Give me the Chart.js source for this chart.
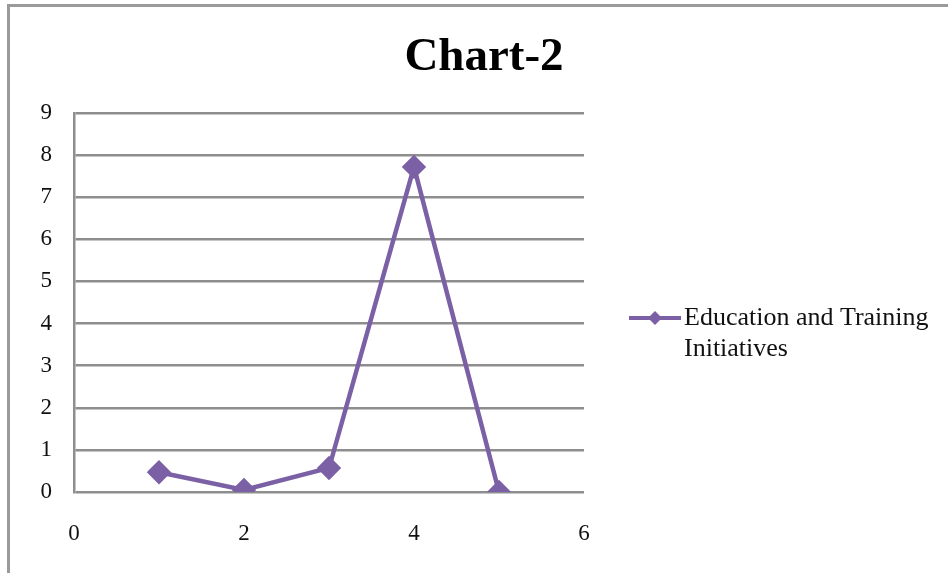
<!DOCTYPE html>
<html>
<head>
<meta charset="utf-8">
<script src="https://cdn.jsdelivr.net/npm/chart.js@4"></script>
<style>
  body { margin: 0; background: #fff; }
  #wrap { width: 948px; height: 573px; position: relative; }
</style>
</head>
<body>
<div id="wrap"><canvas id="chart2"></canvas></div>
<script>
const xValues = [1, 2, 3, 4, 5];
const yValues = [0.47, 0.05, 0.57, 7.72, 0];
const seriesName = ['Education and Training', 'Initiatives'];
const xTicks = [0, 2, 4, 6];

const purple = '#7b60a6';
const serif = "'Liberation Serif', 'Times New Roman', serif";

// frame around the chart (top and left edge like the scan)
const framePlugin = {
  id: 'frame',
  beforeDraw(chart) {
    const ctx = chart.ctx;
    ctx.save();
    ctx.strokeStyle = '#9a9a9a';
    ctx.lineWidth = 3;
    ctx.beginPath();
    ctx.moveTo(8.5, 573);
    ctx.lineTo(8.5, 5.5);
    ctx.lineTo(948, 5.5);
    ctx.stroke();
    ctx.restore();
  }
};

// legend on the right, label on two lines
const legendPlugin = {
  id: 'sideLegend',
  afterDraw(chart) {
    const ctx = chart.ctx;
    const ds = chart.data.datasets[0];
    const y = 318;
    ctx.save();
    ctx.strokeStyle = ds.borderColor;
    ctx.lineWidth = 4;
    ctx.beginPath();
    ctx.moveTo(629, y);
    ctx.lineTo(681, y);
    ctx.stroke();
    ctx.fillStyle = ds.backgroundColor;
    ctx.beginPath();
    ctx.moveTo(655, y - 7);
    ctx.lineTo(662, y);
    ctx.lineTo(655, y + 7);
    ctx.lineTo(648, y);
    ctx.closePath();
    ctx.fill();
    ctx.fillStyle = '#111';
    ctx.font = '26px ' + serif;
    ctx.textBaseline = 'middle';
    ctx.fillText(seriesName[0], 684, y);
    ctx.fillText(seriesName[1], 684, y + 31);
    ctx.restore();
  }
};

new Chart(document.getElementById('chart2'), {
  type: 'scatter',
  data: {
    datasets: [{
      label: seriesName.join(' '),
      data: xValues.map((x, i) => ({ x: x, y: yValues[i] })),
      showLine: true,
      borderColor: purple,
      backgroundColor: purple,
      borderWidth: 4.5,
      pointStyle: 'rectRot',
      pointRadius: 9,
      pointHoverRadius: 9,
      yAxisID: 'y'
    }]
  },
  options: {
    responsive: true,
    maintainAspectRatio: false,
    animation: false,
    layout: { padding: { left: 20, right: 0, top: 0, bottom: 0 } },
    plugins: {
      legend: { display: false },
      tooltip: { enabled: false },
      title: {
        display: true,
        text: 'Chart-2',
        color: '#000',
        font: { family: serif, size: 47, weight: 'bold', lineHeight: 1.2 },
        padding: { top: 30, bottom: 26.6 }
      }
    },
    scales: {
      x: {
        type: 'linear',
        min: 0,
        max: 6,
        afterBuildTicks: (s) => { s.ticks = xTicks.map(v => ({ value: v })); },
        grid: { display: false },
        border: { display: false },
        ticks: { color: '#111', padding: 20, font: { family: serif, size: 23 } },
        afterFit: (s) => { s.height = 81; }
      },
      y: {
        min: 0,
        max: 9,
        ticks: { stepSize: 1, color: '#111', padding: 22, font: { family: serif, size: 23 } },
        grid: { color: '#8e8e8e', lineWidth: 2.5, drawTicks: false },
        border: { color: '#8e8e8e', width: 2.5 },
        afterFit: (s) => { s.width = 54; }
      },
      yRight: {
        position: 'right',
        min: 0,
        max: 9,
        grid: { display: false },
        border: { display: false },
        ticks: { display: false },
        afterFit: (s) => { s.width = 364; }
      }
    }
  },
  plugins: [framePlugin, legendPlugin]
});
</script>
</body>
</html>
